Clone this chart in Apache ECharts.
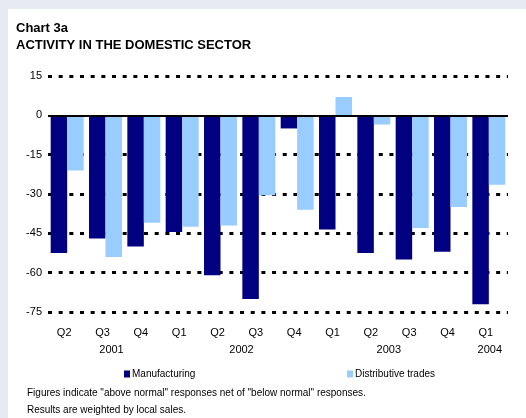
<!DOCTYPE html>
<html>
<head>
<meta charset="utf-8">
<script src="https://cdn.jsdelivr.net/npm/echarts@6/dist/echarts.min.js"></script>
<style>
html,body{margin:0;padding:0;background:#e6eaf2;width:526px;height:418px;overflow:hidden;}
#chart{position:absolute;left:8px;top:9px;width:518px;height:409px;background:#ffffff;}
</style>
</head>
<body>
<div id="chart"></div>
<script>
var quarters = ['Q2','Q3','Q4','Q1','Q2','Q3','Q4','Q1','Q2','Q3','Q4','Q1'];
var yearLabels = ['','2001','','','2002','','','','2003','','','2004'];
var manufacturing = [-52.5,-47,-50,-44.5,-61,-70,-5,-43.5,-52.5,-55,-52,-72];
var distributive = [-21,-54,-41,-42.5,-42,-30.5,-36,7,-3.5,-43,-35,-26.5];
var yMin = -75, yMax = 15, yStep = 15;

var FONT = '"Liberation Sans", Arial, sans-serif';
var chart = echarts.init(document.getElementById('chart'), null, {renderer:'canvas'});

var yearStyle = {
  '2001': 'a', '2002': 'b', '2003': 'c', '2004': 'd'
};

chart.setOption({
  backgroundColor: '#ffffff',
  animation: false,
  textStyle: {fontFamily: FONT, color: '#000'},
  title: [
    {
      text: 'Chart 3a\nACTIVITY IN THE DOMESTIC SECTOR',
      left: 8, top: 11, padding: 0,
      textStyle: {fontFamily: FONT, fontSize: 13, fontWeight: 'bold', color: '#000', lineHeight: 17}
    },
    {
      text: 'Figures indicate "above normal" responses net of "below normal" responses.\nResults are weighted by local sales.',
      left: 19, top: 376, padding: 0,
      textStyle: {fontFamily: FONT, fontSize: 10, fontWeight: 'normal', color: '#000', lineHeight: 17}
    }
  ],
  legend: [
    {
      data: ['Manufacturing'], left: 116, top: 360, padding: 0,
      itemWidth: 6, itemHeight: 7, itemGap: 2, icon: 'rect',
      textStyle: {fontFamily: FONT, fontSize: 10, color: '#000', padding: [4,0,0,-3]}
    },
    {
      data: ['Distributive trades'], left: 339, top: 360, padding: 0,
      itemWidth: 6, itemHeight: 7, itemGap: 2, icon: 'rect',
      textStyle: {fontFamily: FONT, fontSize: 10, color: '#000', padding: [4,0,0,-3]}
    }
  ],
  grid: {left: 40, top: 67, width: 460, height: 236, containLabel: false},
  xAxis: [
    {
      type: 'category', data: quarters, position: 'bottom',
      axisLine: {show: false, onZero: false}, axisTick: {show: false},
      axisLabel: {interval: 0, margin: 15, fontSize: 11, fontFamily: FONT, color: '#000', padding: [0,6,0,0]}
    },
    {
      type: 'category', data: quarters, position: 'bottom', offset: 0,
      axisLine: {show: false, onZero: false}, axisTick: {show: false},
      axisLabel: {
        interval: 0, margin: 32, fontSize: 11, fontFamily: FONT, color: '#000',
        formatter: function (v, i) {
          var y = yearLabels[i];
          return y ? '{' + yearStyle[y] + '|' + y + '}' : '';
        },
        rich: {
          a: {fontSize: 11, fontFamily: FONT, padding: [0,0,0,12]},
          b: {fontSize: 11, fontFamily: FONT, padding: [0,0,0,42]},
          c: {fontSize: 11, fontFamily: FONT, padding: [0,0,0,30]},
          d: {fontSize: 11, fontFamily: FONT, padding: [0,0,0,2]}
        }
      }
    }
  ],
  yAxis: {
    type: 'value', min: yMin, max: yMax, interval: yStep,
    axisLine: {show: false}, axisTick: {show: false},
    axisLabel: {margin: 6, fontSize: 11, fontFamily: FONT, color: '#000'},
    splitLine: {
      show: true,
      lineStyle: {
        color: ['#000','#000','#000','#000','#000','rgba(0,0,0,0)','#000'],
        width: 3, type: [4, 6.67]
      }
    }
  },
  series: [
    {
      name: 'Manufacturing', type: 'bar', data: manufacturing, xAxisIndex: 0,
      barGap: '0%', barCategoryGap: '14%',
      itemStyle: {color: '#000080'},
      markLine: {
        silent: true, symbol: 'none', label: {show: false},
        lineStyle: {color: '#000', width: 2, type: 'solid'},
        data: [{yAxis: 0}]
      }
    },
    {
      name: 'Distributive trades', type: 'bar', data: distributive, xAxisIndex: 0,
      barGap: '0%', barCategoryGap: '14%',
      itemStyle: {color: '#99ccff'}
    }
  ]
});
</script>
</body>
</html>
